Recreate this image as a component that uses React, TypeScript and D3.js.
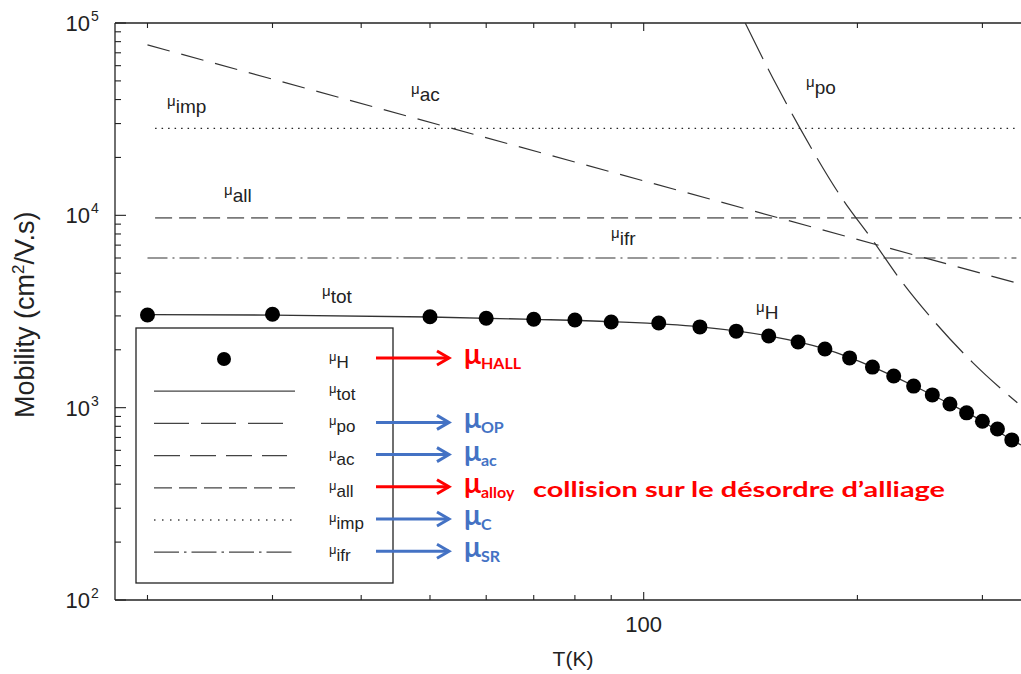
import * as d3 from 'd3';

// Hall mobility points (T in K, mobility in cm2/V.s)
const tempsH = [20, 30, 50, 60, 70, 80, 90, 105, 120, 135, 150, 165, 180, 195, 210, 225, 240, 255, 270, 285, 300, 315, 330];
const muH = [3030, 3060, 2970, 2915, 2880, 2855, 2790, 2755, 2630, 2500, 2360, 2195, 2020, 1815, 1625, 1460, 1295, 1165, 1045, 940, 850, 775, 680];

// total mobility curve
const tempsTot = [20, 30, 50, 70, 90, 120, 150, 180, 210, 240, 270, 300, 330, 340];
const muTot = [3050, 3030, 2960, 2880, 2800, 2630, 2360, 2020, 1630, 1300, 1045, 850, 680, 640];

// polar optical phonons
const tempsPo = [139, 152, 166, 191, 210, 230, 257, 291, 336];
const muPo = [100000, 51800, 28400, 12000, 7450, 4610, 2790, 1710, 1060];

// acoustic phonons
const tempsAc = [20, 100, 335];
const muAc = [76900, 15100, 4450];

// flat mechanisms
const tempsImp = [20.5, 335];
const muImp = [28300, 28300];
const tempsAll = [20.5, 340];
const muAll = [9700, 9700];
const tempsIfr = [20, 335];
const muIfr = [6000, 6000];

const legendSubs = ['H', 'tot', 'po', 'ac', 'all', 'imp', 'ifr'];
const noteRows = [0, 2, 3, 4, 5, 6];
const noteSubs = ['HALL', 'OP', 'ac', 'alloy', 'C', 'SR'];
const noteColors = ['#ff0000', '#4472c4', '#4472c4', '#ff0000', '#4472c4', '#4472c4'];

const W = 1021;
const H = 674;
const LEFT = 115;
const TOP = 23;
const BOTTOM = 600;

const FONT = '"Liberation Sans", Arial, sans-serif';
const NOTE_FONT = 'Lato, "Open Sans", sans-serif';

const dashes: Record<string, string> = {
  tot: '',
  po: '40,11',
  ac: '23,12',
  all: '17,7',
  imp: '1.5,5',
  ifr: '20,5,2,5',
};
const legendDashes: Record<string, string> = {
  tot: '',
  po: '35,12',
  ac: '26,10',
  all: '18,7',
  imp: '1.5,6.5',
  ifr: '25,5,2.5,5',
};

export default function App() {
  const x = d3.scaleLog().domain([18, 340]).range([LEFT, W]);
  const y = d3.scaleLog().domain([100, 100000]).range([BOTTOM, TOP]);

  const line = d3
    .line<[number, number]>()
    .x((d) => x(d[0]))
    .y((d) => y(d[1]));
  const curve = d3
    .line<[number, number]>()
    .x((d) => x(d[0]))
    .y((d) => y(d[1]))
    .curve(d3.curveMonotoneX);

  const zip = (a: number[], b: number[]) => a.map((v, i) => [v, b[i]] as [number, number]);

  const yTicks = y.ticks();
  const xTicks = x.ticks();
  const decades = [100, 1000, 10000, 100000];

  const series = [
    { key: 'imp', d: line(zip(tempsImp, muImp)), color: '#222', w: 1.3 },
    { key: 'all', d: line(zip(tempsAll, muAll)), color: '#7a7a7a', w: 1.6 },
    { key: 'ifr', d: line(zip(tempsIfr, muIfr)), color: '#333', w: 1.2 },
    { key: 'ac', d: line(zip(tempsAc, muAc)), color: '#333', w: 1.2 },
    { key: 'po', d: curve(zip(tempsPo, muPo)), color: '#333', w: 1.2 },
    { key: 'tot', d: curve(zip(tempsTot, muTot)), color: '#333', w: 1.3 },
  ];

  // chart labels: [sub, x, baseline]
  const chartLabels: [string, number, number][] = [
    ['imp', 167, 113],
    ['ac', 411, 101],
    ['all', 224, 202],
    ['ifr', 611, 245],
    ['tot', 322, 303],
    ['po', 806, 94],
    ['H', 756, 319],
  ];

  const rowY = (i: number) => 359 + i * 32.2;

  return (
    <div style={{ position: 'absolute', left: 0, top: 0 }}>
      <svg width={W} height={H} style={{ display: 'block', background: '#fff' }}>
        <defs>
          <clipPath id="plot">
            <rect x={LEFT} y={TOP} width={W - LEFT} height={BOTTOM - TOP} />
          </clipPath>
        </defs>

        {/* frame */}
        <line x1={LEFT} x2={LEFT} y1={TOP} y2={BOTTOM} stroke="#222" strokeWidth={1.3} />
        <line x1={LEFT} x2={W} y1={BOTTOM} y2={BOTTOM} stroke="#222" strokeWidth={1.3} />
        <line x1={LEFT} x2={W} y1={TOP} y2={TOP} stroke="#222" strokeWidth={1.3} />

        {/* y ticks */}
        {yTicks.map((t) => {
          const major = decades.includes(t);
          return (
            <line key={'yt' + t} x1={LEFT} x2={LEFT + (major ? 11 : 6)} y1={y(t)} y2={y(t)} stroke="#222" strokeWidth={1.1} />
          );
        })}
        {decades.map((t) => (
          <text key={'yl' + t} x={90} y={y(t) + 8} textAnchor="end" fontFamily={FONT} fontSize={22} fill="#222">
            10
          </text>
        ))}
        {decades.map((t) => (
          <text key={'ye' + t} x={91} y={y(t) - 2} fontFamily={FONT} fontSize={14} fill="#222">
            {Math.round(Math.log10(t))}
          </text>
        ))}

        {/* x ticks */}
        {xTicks.map((t) => {
          const major = t === 100;
          return (
            <g key={'xt' + t}>
              <line x1={x(t)} x2={x(t)} y1={BOTTOM} y2={BOTTOM - (major ? 8 : 5)} stroke="#222" strokeWidth={1.1} />
              <line x1={x(t)} x2={x(t)} y1={TOP} y2={TOP + (major ? 8 : 5)} stroke="#222" strokeWidth={1.1} />
            </g>
          );
        })}
        <text x={x(100)} y={632} textAnchor="middle" fontFamily={FONT} fontSize={22} fill="#222">
          100
        </text>
        <text x={573} y={666} textAnchor="middle" fontFamily={FONT} fontSize={21} fill="#222">
          T(K)
        </text>
        <text transform="translate(34,418) rotate(-90)" fontFamily={FONT} fontSize={27} fill="#222">
          Mobility (cm<tspan fontSize={17} dy={-10}>2</tspan>
          <tspan dy={10}>/V.s)</tspan>
        </text>

        {/* curves */}
        <g clipPath="url(#plot)">
          {series.map((s) => (
            <path
              key={s.key}
              d={s.d || ''}
              fill="none"
              stroke={s.color}
              strokeWidth={s.w}
              strokeDasharray={dashes[s.key]}
            />
          ))}
          {tempsH.map((t, i) => (
            <circle key={'p' + t} cx={x(t)} cy={y(muH[i])} r={7.5} fill="#000" />
          ))}
        </g>

        {chartLabels.map(([sub, lx, ly]) => (
          <text key={'cl' + sub} x={lx} y={ly} fontFamily={FONT} fill="#222">
            <tspan fontSize={15} dy={-7}>μ</tspan>
            <tspan fontSize={19} dy={7}>{sub}</tspan>
          </text>
        ))}

        {/* legend */}
        <rect x={136} y={328} width={257} height={255} fill="#fff" stroke="#222" strokeWidth={1.3} />
        {legendSubs.map((sub, i) => (
          <g key={'lg' + sub}>
            {sub === 'H' ? (
              <circle cx={224} cy={rowY(i)} r={7} fill="#000" />
            ) : (
              <line
                x1={154}
                x2={sub === 'po' ? 283 : sub === 'ac' ? 287 : 295}
                y1={rowY(i)}
                y2={rowY(i)}
                stroke="#444"
                strokeWidth={1.3}
                strokeDasharray={legendDashes[sub]}
              />
            )}
            <text x={329} y={rowY(i) + 9} fontFamily={FONT} fill="#222">
              <tspan fontSize={13} dy={-7}>μ</tspan>
              <tspan fontSize={17} dy={7}>{sub}</tspan>
            </text>
          </g>
        ))}

        {/* annotations */}
        {noteRows.map((r, i) => {
          const ay = rowY(r) - 1;
          const c = noteColors[i];
          return (
            <g key={'note' + i}>
              <line x1={376} x2={449} y1={ay} y2={ay} stroke={c} strokeWidth={3} />
              <path d={`M${437},${ay - 7}L${449},${ay}L${437},${ay + 7}`} fill="none" stroke={c} strokeWidth={3} />
              <text x={464} y={ay + 6} fontFamily={NOTE_FONT} fontWeight={700} fill={c}>
                <tspan fontSize={28}>μ</tspan>
                <tspan fontSize={16} dy={5}>{noteSubs[i]}</tspan>
              </text>
            </g>
          );
        })}
        <text
          x={533}
          y={497}
          fontFamily={NOTE_FONT}
          fontWeight={700}
          fontSize={21}
          fill="#ff0000"
          textLength={412}
          lengthAdjust="spacingAndGlyphs"
        >
          collision sur le désordre d’alliage
        </text>
      </svg>
    </div>
  );
}
